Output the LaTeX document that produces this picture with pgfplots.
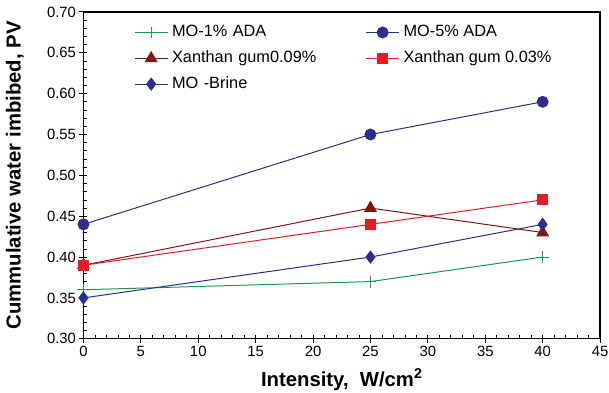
\documentclass[border=0pt]{standalone}
\usepackage{pgfplots}
\pgfplotsset{compat=1.18}
\usepackage{fontspec}
\setmainfont{Liberation Sans}
\definecolor{navy}{RGB}{43,46,140}
\definecolor{mgreen}{RGB}{20,155,75}
\definecolor{dred}{RGB}{130,20,20}
\definecolor{bred}{RGB}{225,30,35}
\begin{document}
\begin{tikzpicture}
\begin{axis}[
  scale only axis,
  width=520bp, height=329bp,
  xmin=0, xmax=45, ymin=0.30, ymax=0.70,
  xtick={0,5,...,45},
  ytick={0.30,0.35,...,0.70},
  minor x tick num=4,
  minor y tick num=4,
  major tick length=8bp,
  minor tick length=4bp,
  tick align=center,
  every major tick/.style={black, line width=0.9pt},
  every minor tick/.style={black, line width=0.7pt},
  every minor x tick/.append style={yshift=2bp},
  every minor y tick/.append style={xshift=2bp},
  xtick pos=bottom, ytick pos=left,
  axis line style={line width=1.2pt},
  tick label style={font=\fontsize{15}{17}\selectfont},
  /pgf/number format/assume math mode=true,
  yticklabel style={/pgf/number format/.cd, fixed, fixed zerofill, precision=2},
  xticklabel style={/pgf/number format/.cd, fixed},
  xlabel={\bfseries Intensity,\ \ W/cm$^{\mathbf{2}}$},
  ylabel={\bfseries Cummulative water imbibed, PV},
  every axis y label/.style={at={(axis description cs:-0.1327,0.5)}, rotate=90, anchor=center, font=\fontsize{20.5}{22}\selectfont},
  every axis x label/.style={at={(axis description cs:0.5,-0.125)}, anchor=center, font=\fontsize{20.5}{22}\selectfont},
  legend columns=2,
  legend style={draw=none, fill=none, at={(0.098,0.962)}, anchor=north west,
    inner sep=0pt,
    font=\fontsize{16.5}{18}\selectfont, row sep=10bp,
    nodes={inner sep=0pt, text height=12bp, text depth=4bp},
    /tikz/column 1/.style={column sep=4bp},
    /tikz/column 2/.style={text width=195bp},
    /tikz/column 3/.style={column sep=4bp}},
  legend cell align=left,
  legend image code/.code={\draw[mark repeat=2,mark phase=2] plot coordinates {(0bp,0bp)(16.5bp,0bp)(33bp,0bp)};},
  every axis plot/.append style={line width=1pt},
]
\addplot[mgreen, mark=+, mark size=6bp, mark options={line width=1pt}] coordinates {(0,0.36) (25,0.37) (40,0.40)};
\addlegendentry{MO-1\% ADA}
\addplot[navy, mark=*, mark size=5.5bp] coordinates {(0,0.44) (25,0.55) (40,0.59)};
\addlegendentry{MO-5\% ADA}
\addplot[dred, mark=triangle*, mark size=6.5bp] coordinates {(0,0.39) (25,0.46) (40,0.43)};
\addlegendentry{Xanthan gum0.09\%}
\addplot[bred, mark=square*, mark size=5bp] coordinates {(0,0.39) (25,0.44) (40,0.47)};
\addlegendentry{Xanthan gum 0.03\%}
\addplot[navy, mark=diamond*, mark size=6bp] coordinates {(0,0.35) (25,0.40) (40,0.44)};
\addlegendentry{MO -Brine}
\end{axis}
\pgfresetboundingbox
\useasboundingbox (-84bp,-54bp) rectangle (529bp,341bp);
\end{tikzpicture}
\end{document}
